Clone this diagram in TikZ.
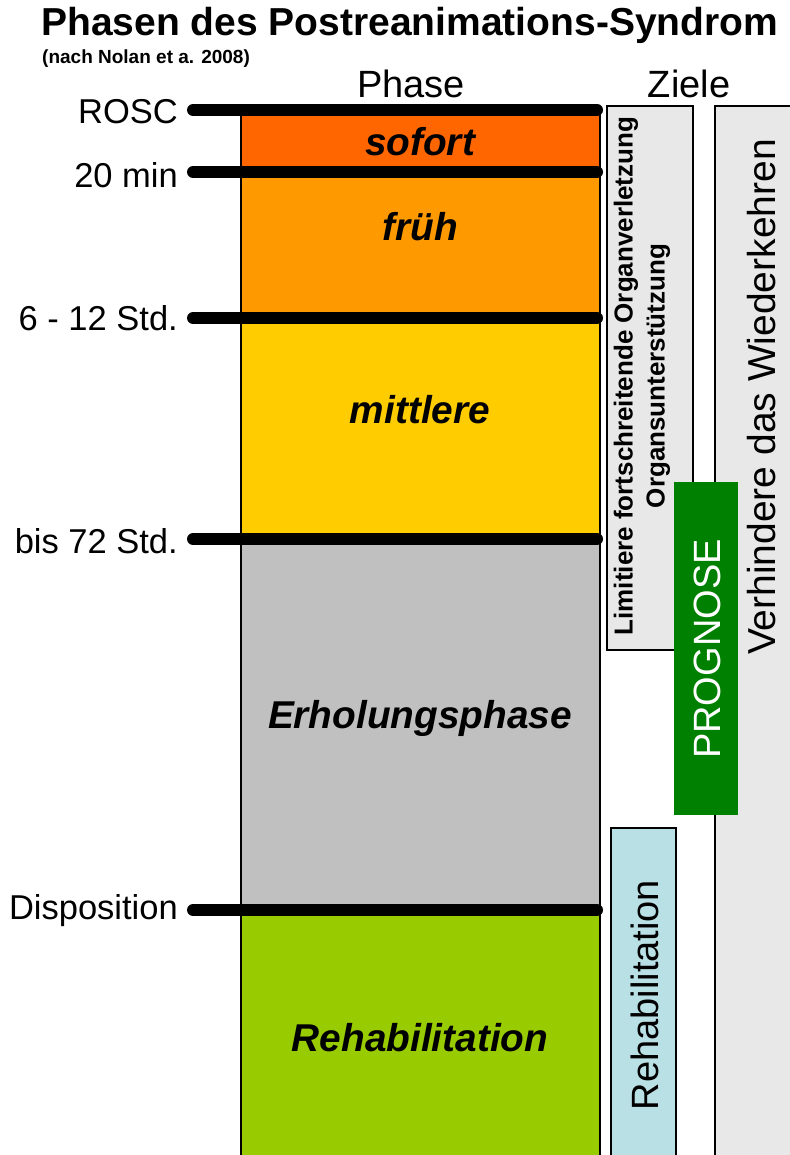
\documentclass[tikz,border=0pt]{standalone}
\usepackage{fontspec}
\setmainfont{Liberation Sans}
\definecolor{cSofort}{HTML}{FF6600}
\definecolor{cFrueh}{HTML}{FF9900}
\definecolor{cMittel}{HTML}{FFCC00}
\definecolor{cErhol}{HTML}{C0C0C0}
\definecolor{cReha}{HTML}{99CC00}
\definecolor{cBox}{HTML}{E8E8E8}
\definecolor{cGreen}{HTML}{008000}
\definecolor{cBlue}{HTML}{B9E0E4}
\tikzset{
  band/.style={draw=black, line width=1.5pt},
  phaselbl/.style={font=\fontsize{38.8}{40}\selectfont\bfseries\itshape, anchor=center, inner sep=0},
  timelbl/.style={font=\fontsize{34.5}{36}\selectfont, anchor=east, inner sep=0},
  tick/.style={line width=12pt, line cap=round},
  goalbox/.style={draw=black, line width=1.2pt},
  vtext/.style={rotate=90, inner sep=0, anchor=center},
}
\begin{document}
\begin{tikzpicture}[x=1pt,y=-1pt]
\useasboundingbox (0,0) rectangle (789,1155);
% titles
\node[font=\fontsize{39}{42}\selectfont\bfseries, anchor=west, inner sep=0] (title) at (41,25) {Phasen des Postreanimations-Syndrom};
\node[font=\fontsize{19}{21}\selectfont\bfseries, anchor=west, inner sep=0] (sub) at (42,59) {(nach Nolan et a. 2008)};
\node[font=\fontsize{38}{40}\selectfont, inner sep=0] (hphase) at (411,84) {Phase};
\node[font=\fontsize{38}{40}\selectfont, inner sep=0] (hziele) at (689,84) {Ziele};
% phase bands
\fill[cSofort] (241,110) rectangle (600,173);
\fill[cFrueh] (241,173) rectangle (600,318);
\fill[cMittel] (241,318) rectangle (600,540);
\fill[cErhol] (241,540) rectangle (600,910);
\fill[cReha] (241,910) rectangle (600,1160);
\draw[band] (241,1160) -- (241,110) -- (600,110) -- (600,1160);
\node[phaselbl] (p1) at (420,142) {sofort};
\node[phaselbl] (p2) at (420,227) {früh};
\node[phaselbl] (p3) at (420,410) {mittlere};
\node[phaselbl] (p4) at (420,718) {Erholungsphase};
\node[phaselbl] (p5) at (420,1038) {Rehabilitation};
% goal boxes
\node[goalbox, fill=cBox, minimum width=86pt, minimum height=544pt, inner sep=0] (g1) at (650,378) {};
\node[vtext, font=\fontsize{26}{32}\selectfont\bfseries, align=center] (g1t) at (642,376) {Limitiere fortschreitende Organverletzung\\Organsunterstützung};
\node[goalbox, fill=cBox, minimum width=90pt, minimum height=1060pt, inner sep=0] (g2) at (760,636) {};
\node[vtext, font=\fontsize{39}{40}\selectfont] (g2t) at (762,397) {Verhindere das Wiederkehren};
\node[fill=cGreen, minimum width=64pt, minimum height=333pt, inner sep=0] (g3) at (706,648.5) {};
\node[vtext, font=\fontsize{38}{40}\selectfont, text=white] (g3t) at (707,649) {PROGNOSE};
\node[goalbox, fill=cBlue, minimum width=65pt, minimum height=340pt, inner sep=0] (g4) at (643.5,998) {};
\node[vtext, font=\fontsize{38}{40}\selectfont] (g4t) at (645,995) {Rehabilitation};
% time markers
\coordinate (a1) at (193,110); \coordinate (b1) at (597,110);
\coordinate (a2) at (193,172); \coordinate (b2) at (597,172);
\coordinate (a3) at (193,318); \coordinate (b3) at (597,318);
\coordinate (a4) at (193,539); \coordinate (b4) at (597,539);
\coordinate (a5) at (193,910); \coordinate (b5) at (597,910);
\draw[tick] (a1) -- (b1);
\draw[tick] (a2) -- (b2);
\draw[tick] (a3) -- (b3);
\draw[tick] (a4) -- (b4);
\draw[tick] (a5) -- (b5);
\node[timelbl] (t1) at (178,112) {ROSC};
\node[timelbl] (t2) at (178,175) {20 min};
\node[timelbl] (t3) at (178,318) {6 - 12 Std.};
\node[timelbl] (t4) at (178,541) {bis 72 Std.};
\node[timelbl] (t5) at (178,911) {Disposition};
\end{tikzpicture}
\end{document}
